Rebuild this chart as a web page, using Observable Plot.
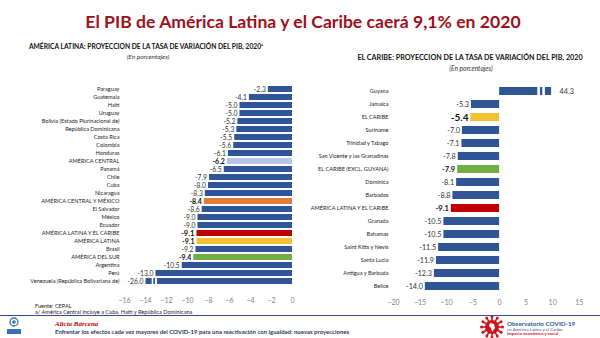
<!DOCTYPE html>
<html><head><meta charset="utf-8">
<script src="https://cdn.jsdelivr.net/npm/d3@7"></script>
<script src="https://cdn.jsdelivr.net/npm/@observablehq/plot@0.6"></script>
<style>
body{margin:0;background:#fff;font-family:Lato,"Open Sans",sans-serif;}
#page{position:relative;width:600px;height:338px;overflow:hidden;background:#fff;}
.abs{position:absolute;white-space:nowrap;line-height:1;}
</style></head><body><div id="page"></div>
<script>
// ---------- DATA ----------
const latamNames = ["Paraguay","Guatemala","Haití","Uruguay","Bolivia (Estado Plurinacional de)","República Dominicana","Costa Rica","Colombia","Honduras","AMÉRICA CENTRAL","Panamá","Chile","Cuba","Nicaragua","AMÉRICA CENTRAL Y MÉXICO","El Salvador","México","Ecuador","AMÉRICA LATINA Y EL CARIBE","AMÉRICA LATINA","Brasil","AMÉRICA DEL SUR","Argentina","Perú","Venezuela (República Bolivariana de)"];
const latamValues = [-2.3,-4.1,-5.0,-5.0,-5.2,-5.3,-5.5,-5.6,-6.1,-6.2,-6.5,-7.9,-8.0,-8.3,-8.4,-8.6,-9.0,-9.0,-9.1,-9.1,-9.2,-9.4,-10.5,-13.0,-26.0];
const latamTicks = [-16,-14,-12,-10,-8,-6,-4,-2,0];

const caribNames = ["Guyana","Jamaica","EL CARIBE","Suriname","Trinidad y Tabago","San Vicente y las Granadinas","EL CARIBE (EXCL. GUYANA)","Dominica","Barbados","AMÉRICA LATINA Y EL CARIBE","Granada","Bahamas","Saint Kitts y Nevis","Santa Lucía","Antigua y Barbuda","Belice"];
const caribValues = [44.3,-5.3,-5.4,-7.0,-7.1,-7.8,-7.9,-8.1,-8.8,-9.1,-10.5,-10.5,-11.5,-11.9,-12.3,-14.0];
const caribTicks = [-20,-15,-10,-5,0,5,10,15];

const aggregates = ["AMÉRICA CENTRAL","AMÉRICA CENTRAL Y MÉXICO","AMÉRICA LATINA Y EL CARIBE","AMÉRICA LATINA","AMÉRICA DEL SUR","EL CARIBE","EL CARIBE (EXCL. GUYANA)"];

// ---------- STYLE ----------
const BLUE = "#2f5597";
const aggColor = {
  "AMÉRICA CENTRAL":"#b4c7e7",
  "AMÉRICA CENTRAL Y MÉXICO":"#e07b39",
  "AMÉRICA LATINA Y EL CARIBE":"#c00000",
  "AMÉRICA LATINA":"#f4c133",
  "AMÉRICA DEL SUR":"#70ad47",
  "EL CARIBE":"#f4c133",
  "EL CARIBE (EXCL. GUYANA)":"#70ad47"
};

const page = document.getElementById("page");
function addText(html, css){const d=document.createElement("div");d.className="abs";d.innerHTML=html;Object.assign(d.style,css);page.appendChild(d);return d;}

addText("El PIB de América Latina y el Caribe caerá 9,1% en 2020",{left:"303px",top:"13px",fontSize:"17.6px",fontWeight:"700",color:"#a0101a",transform:"translateX(-50%)"});
addText("AMÉRICA LATINA: PROYECCION DE LA TASA DE VARIACIÓN DEL PIB, 2020<sup style='font-size:4px'>a</sup>",{left:"146px",top:"43px",fontSize:"6.7px",fontWeight:"700",color:"#111",transform:"translateX(-50%)"});
addText("(En porcentajes)",{left:"148px",top:"53.5px",fontSize:"6.5px",fontStyle:"italic",color:"#333",transform:"translateX(-50%)"});
addText("EL CARIBE: PROYECCION DE LA TASA DE VARIACIÓN DEL PIB, 2020",{left:"470px",top:"54px",fontSize:"7.2px",fontWeight:"700",color:"#111",transform:"translateX(-50%)"});
addText("(En porcentajes)",{left:"471px",top:"65px",fontSize:"6.6px",fontStyle:"italic",color:"#333",transform:"translateX(-50%)"});

function makeChart(names, values, ticks, opts){
  const data = names.map((n,i)=>({name:n, value:values[i], agg:aggregates.includes(n)}));
  const cap = opts.cap;
  const shown = d => (cap<0 ? Math.max(d.value,cap) : Math.min(d.value,cap));
  const broken = data.filter(d => (cap<0 ? d.value<cap : d.value>cap));
  const gaps = [];
  broken.forEach(d => opts.gaps.forEach(g => gaps.push({name:d.name, x1:cap*g[0], x2:cap*g[1]})));
  const fmt = v => v.toFixed(1);
  return Plot.plot({
    width: opts.width, height: opts.height,
    marginLeft: opts.ml, marginRight: opts.mr, marginTop: opts.mt, marginBottom: opts.mb,
    style:{fontFamily:"Lato, 'Open Sans', sans-serif", background:"transparent", overflow:"visible"},
    x:{domain:opts.domain, ticks:ticks, tickFormat:d=>d===0?"0":String(d)},
    y:{domain:names, padding:opts.pad},
    marks:[
      Plot.barX(data,{x1:0, x2:shown, y:"name", fill:d=>d.agg?aggColor[d.name]:BLUE}),
      Plot.barX(gaps,{x1:"x1", x2:"x2", y:"name", fill:"white", insetTop:-0.5, insetBottom:-0.5}),
      Plot.text(data.filter(d=>!d.agg && d.value<0),{x:shown, y:"name", text:d=>fmt(d.value), textAnchor:"end", dx:-2.5, fontSize:opts.valFont, fill:"#333"}),
      Plot.text(data.filter(d=>!d.agg && d.value>=0),{x:shown, y:"name", text:d=>fmt(d.value), textAnchor:"start", dx:8, fontSize:opts.valFont, fill:"#333"}),
      Plot.text(data.filter(d=>d.agg),{x:shown, y:"name", text:d=>fmt(d.value), textAnchor:"end", dx:-2.5, fontSize:d=>opts.big[d.name]||opts.aggFont, fontWeight:"bold", fill:"#111"}),
      Plot.axisY({tickSize:0, tickPadding:5, fontSize:opts.catFont, label:null, fill:"#222"}),
      Plot.axisX({ticks:ticks, tickSize:0, tickPadding:opts.tp, fontSize:7, label:null, fill:"#7f7f7f"})
    ]
  });
}

const left = makeChart(latamNames, latamValues, latamTicks, {width:300, height:236, ml:124, mr:8, mt:6, mb:22, domain:[-16,0], cap:-13.95, gaps:[[0.958,0.947],[0.935,0.922]], pad:0.27, catFont:5.6, valFont:6.8, aggFont:7, tp:9, big:{"AMÉRICA LATINA Y EL CARIBE":7.6}});
left.style.position="absolute"; left.style.left="0px"; left.style.top="75px";
page.appendChild(left);

const right = makeChart(caribNames, caribValues, caribTicks, {width:300, height:240, ml:93, mr:21.3, mt:7.2, mb:20, domain:[-20,15], cap:9.8, gaps:[[0.735,0.785],[0.83,0.88]], pad:0.36, catFont:5.6, valFont:7.2, aggFont:7.5, tp:5, big:{"EL CARIBE":10}});
right.style.position="absolute"; right.style.left="300px"; right.style.top="75px";
page.appendChild(right);

// ---------- footer ----------
addText("Fuente: CEPAL",{left:"35px",top:"302.5px",fontSize:"5.6px",color:"#222"});
addText("a/ América Central incluye a Cuba, Haití y República Dominicana",{left:"35px",top:"309px",fontSize:"5.6px",color:"#222"});
const rule = document.createElement("div");
Object.assign(rule.style,{position:"absolute",left:"0px",top:"314.5px",width:"600px",height:"1.5px",background:"#2f4f8f",boxShadow:"0 2px 0 -0.5px #8fa6cf"});
page.appendChild(rule);
addText("Alicia Bárcena",{left:"55px",top:"320.5px",fontSize:"7px",fontStyle:"italic",fontWeight:"700",fontFamily:"'Liberation Serif','DejaVu Serif',serif",color:"#c00000"});
addText("Enfrentar los efectos cada vez mayores del COVID-19 para una reactivación con igualdad: nuevas proyecciones",{left:"55px",top:"328.5px",fontSize:"6px",fontWeight:"700",color:"#1f3864"});

// logos (decorative)
const logo = document.createElementNS("http://www.w3.org/2000/svg","svg");
logo.setAttribute("width","600"); logo.setAttribute("height","338");
Object.assign(logo.style,{position:"absolute",left:"0",top:"0",pointerEvents:"none"});
logo.innerHTML = `
 <circle cx="14" cy="322" r="4" fill="none" stroke="#3a6fb3" stroke-width="1.3"/>
 <circle cx="14" cy="322" r="1.8" fill="#3a6fb3"/>
 <rect x="7" y="329" width="14" height="5" fill="#3a6fb3"/>
 <g fill="#d0121b" transform="translate(492,327)">
  <circle r="7"/>
  ${d3.range(12).map(i=>{const a=i*Math.PI/6;return `<line x1="0" y1="0" x2="${(10*Math.cos(a)).toFixed(1)}" y2="${(10*Math.sin(a)).toFixed(1)}" stroke="#d0121b" stroke-width="1.6"/><circle cx="${(10.5*Math.cos(a)).toFixed(1)}" cy="${(10.5*Math.sin(a)).toFixed(1)}" r="1.5"/>`}).join("")}
  <path d="M-2,-4 L2,-3 L3,1 L0,5 L-1,1 L-3,-1 Z" fill="#fff"/>
 </g>`;
page.appendChild(logo);
addText("Observatorio COVID-19",{left:"507px",top:"320.5px",fontSize:"6.3px",fontWeight:"700",color:"#2f5597"});
addText("en América Latina y el Caribe",{left:"507px",top:"327.5px",fontSize:"4.4px",color:"#2f5597"});
addText("Impacto económico y social",{left:"507px",top:"332px",fontSize:"4.2px",fontWeight:"700",color:"#d0121b"});
</script></body></html>
